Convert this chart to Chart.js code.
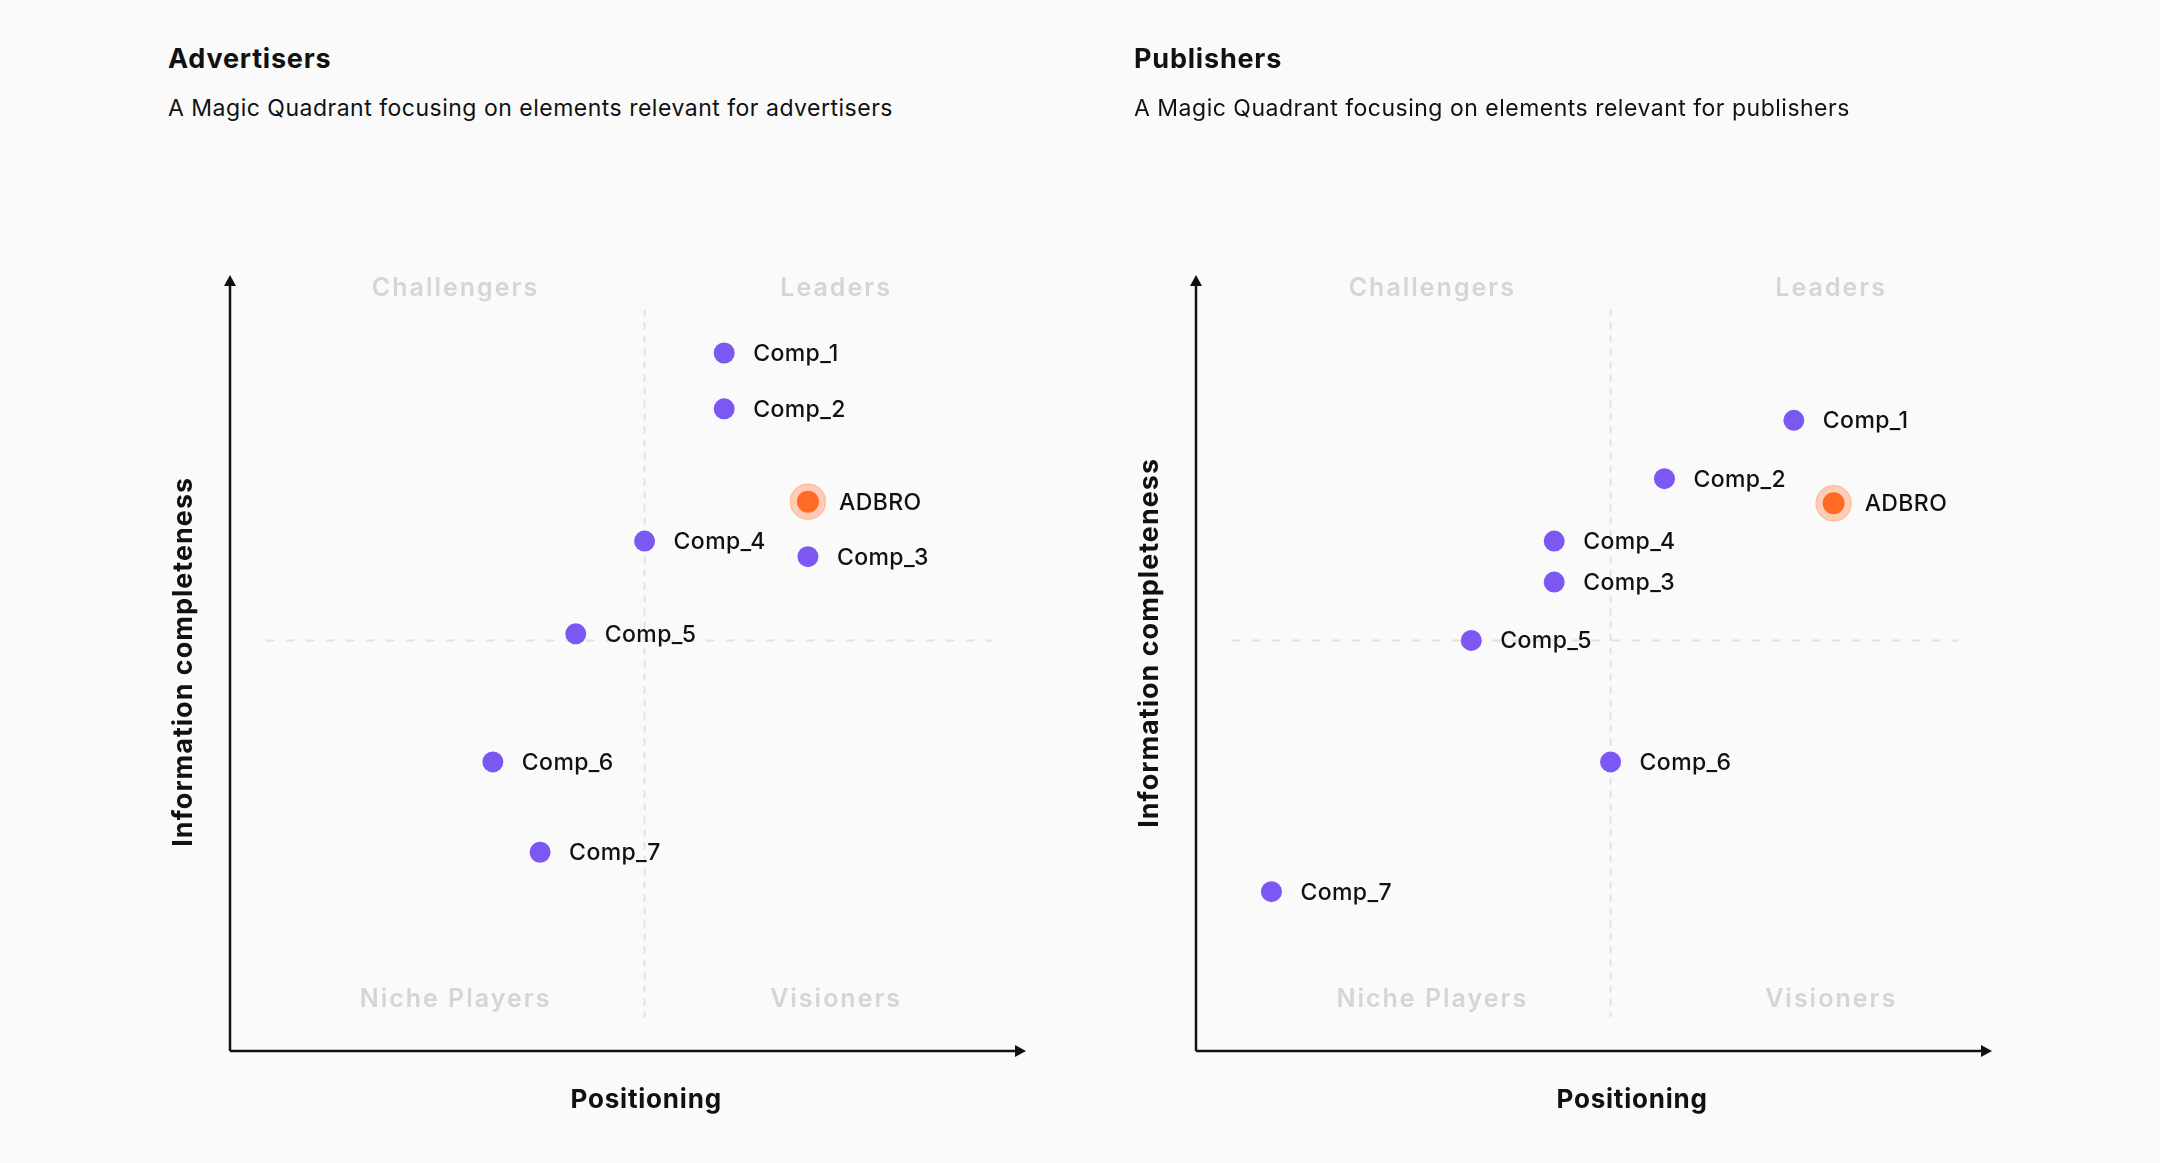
<!DOCTYPE html>
<html>
<head>
<meta charset="utf-8">
<script src="https://cdn.jsdelivr.net/npm/chart.js@4.4.1/dist/chart.umd.min.js"></script>
<style>
  body { margin: 0; width: 2160px; height: 1163px; background: #fafafa; overflow: hidden; position: relative; font-family: Inter, sans-serif; color: #111; }
  .panel { position: absolute; top: 0; width: 1100px; height: 1163px; }
  .panel canvas { position: absolute; left: 0; top: 0; }
  .panel h2 { position: absolute; left: 168px; top: 46px; margin: 0; font-size: 27px; line-height: 26px; font-weight: 700; letter-spacing: 0.8px; }
  .panel p { position: absolute; left: 168px; top: 97px; margin: 0; font-size: 23px; line-height: 22px; font-weight: 400; letter-spacing: 0.5px; white-space: nowrap; }
</style>
</head>
<body>
<div class="panel" style="left:0">
  <h2>Advertisers</h2>
  <p>A Magic Quadrant focusing on elements relevant for advertisers</p>
  <canvas id="adv-chart" width="1100" height="1163"></canvas>
</div>
<div class="panel" style="left:966px">
  <h2>Publishers</h2>
  <p>A Magic Quadrant focusing on elements relevant for publishers</p>
  <canvas id="pub-chart" width="1100" height="1163"></canvas>
</div>
<script>
// Competitors, same order in both quadrants
const competitors = ['Comp_1', 'Comp_2', 'Comp_3', 'Comp_4', 'Comp_5', 'Comp_6', 'Comp_7'];

// Advertisers quadrant (50 = quadrant split on both axes)
const advPositioning = [59.6, 59.6, 69.7, 50.0, 41.7, 31.7, 37.4];
const advCompleteness = [85.0, 78.2, 60.2, 62.1, 50.8, 35.2, 24.2];

// Publishers quadrant
const pubPositioning = [72.1, 56.5, 43.2, 43.2, 33.2, 50.0, 9.1];
const pubCompleteness = [76.8, 69.7, 57.1, 62.1, 50.0, 35.2, 19.4];

// ADBRO: [advertisers, publishers]
const adbroName = 'ADBRO';
const adbroPositioning = [69.7, 76.9];
const adbroCompleteness = [66.9, 66.7];

const quadrantNames = ['Challengers', 'Leaders', 'Niche Players', 'Visioners'];

const PURPLE = '#7a58f1';
const ORANGE = '#ff6a24';

const quadrantPlugin = {
    id: 'quadrant',
    beforeDatasetsDraw(chart, args, opts) {
        const { ctx, chartArea: a, scales: { x, y } } = chart;
        ctx.save();

        // dashed split lines
        ctx.strokeStyle = '#e2e2e2';
        ctx.lineWidth = 2;
        ctx.setLineDash([7, 6]);
        ctx.beginPath();
        ctx.moveTo(x.getPixelForValue(50), y.getPixelForValue(90.3));
        ctx.lineTo(x.getPixelForValue(50), y.getPixelForValue(4.1));
        ctx.stroke();
        ctx.setLineDash([9, 11]);
        ctx.beginPath();
        ctx.moveTo(x.getPixelForValue(4.3), y.getPixelForValue(50));
        ctx.lineTo(x.getPixelForValue(91.9), y.getPixelForValue(50));
        ctx.stroke();
        ctx.setLineDash([]);

        // axes with arrow heads
        ctx.strokeStyle = '#111';
        ctx.fillStyle = '#111';
        ctx.lineWidth = 2.5;
        ctx.beginPath();
        ctx.moveTo(a.left, a.bottom);
        ctx.lineTo(a.left, a.top + 8);
        ctx.moveTo(a.left, a.bottom);
        ctx.lineTo(a.right - 8, a.bottom);
        ctx.stroke();
        ctx.beginPath();
        ctx.moveTo(a.left, a.top);
        ctx.lineTo(a.left - 6, a.top + 11);
        ctx.lineTo(a.left + 6, a.top + 11);
        ctx.closePath();
        ctx.fill();
        ctx.beginPath();
        ctx.moveTo(a.right, a.bottom);
        ctx.lineTo(a.right - 11, a.bottom - 6);
        ctx.lineTo(a.right - 11, a.bottom + 6);
        ctx.closePath();
        ctx.fill();

        // quadrant names
        ctx.fillStyle = '#d5d5d5';
        ctx.font = '600 25px Inter';
        ctx.letterSpacing = '2px';
        ctx.textAlign = 'center';
        ctx.textBaseline = 'alphabetic';
        const [lx, rx] = opts.labelX;
        const topY = y.getPixelForValue(91.9);
        const botY = y.getPixelForValue(5.4);
        ctx.fillText(quadrantNames[0], x.getPixelForValue(lx), topY);
        ctx.fillText(quadrantNames[1], x.getPixelForValue(rx), topY);
        ctx.fillText(quadrantNames[2], x.getPixelForValue(lx), botY);
        ctx.fillText(quadrantNames[3], x.getPixelForValue(rx), botY);

        // axis titles
        ctx.fillStyle = '#111';
        ctx.font = '700 26px Inter';
        ctx.letterSpacing = '0.8px';
        ctx.fillText('Positioning', x.getPixelForValue(opts.xTitleAt), a.bottom + 57);
        ctx.save();
        ctx.translate(a.left - 38, y.getPixelForValue(opts.yTitleAt));
        ctx.rotate(-Math.PI / 2);
        ctx.font = '700 27px Inter';
        ctx.letterSpacing = '1px';
        ctx.fillText('Information completeness', 0, 0);
        ctx.restore();

        ctx.restore();
    },
    afterDatasetsDraw(chart) {
        const { ctx } = chart;
        ctx.save();
        ctx.fillStyle = '#111';
        ctx.font = '500 23px Inter';
        ctx.letterSpacing = '0.4px';
        ctx.textAlign = 'left';
        ctx.textBaseline = 'alphabetic';
        chart.data.datasets.forEach((ds, i) => {
            if (!ds.names) return;
            chart.getDatasetMeta(i).data.forEach((pt, j) => {
                ctx.fillText(ds.names[j], pt.x + ds.labelGap, pt.y + 8);
            });
        });
        ctx.restore();
    }
};

function toPoints(xs, ys) {
    return xs.map((v, i) => ({ x: v, y: ys[i] }));
}

function renderQuadrant(canvasId, xs, ys, idx, extra) {
    // Chart.js paints the first dataset on top, so the ADBRO core comes before its halo
    return new Chart(document.getElementById(canvasId), {
        type: 'scatter',
        data: {
            datasets: [
                {
                    data: toPoints(xs, ys),
                    names: competitors,
                    labelGap: 29,
                    backgroundColor: PURPLE,
                    borderWidth: 0,
                    pointRadius: 10.5
                },
                {
                    data: [{ x: adbroPositioning[idx], y: adbroCompleteness[idx] }],
                    names: [adbroName],
                    labelGap: 31,
                    backgroundColor: ORANGE,
                    borderColor: ORANGE,
                    borderWidth: 0,
                    pointRadius: 11
                },
                {
                    // soft halo behind ADBRO
                    data: [{ x: adbroPositioning[idx], y: adbroCompleteness[idx] }],
                    backgroundColor: '#ffcdb5',
                    borderColor: '#ffbe9f',
                    borderWidth: 1.5,
                    pointRadius: 17.5
                }
            ]
        },
        options: {
            responsive: false,
            animation: false,
            devicePixelRatio: 1,
            layout: { padding: { left: 230, right: 74, top: 275, bottom: 112 } },
            scales: {
                x: { display: false, min: 0, max: 96 },
                y: { display: false, min: 0, max: 94.5 }
            },
            plugins: {
                legend: { display: false },
                tooltip: { enabled: false },
                quadrant: extra
            }
        },
        plugins: [quadrantPlugin]
    });
}

renderQuadrant('adv-chart', advPositioning, advCompleteness, 0,
    { labelX: [27.2, 73.1], xTitleAt: 50.2, yTitleAt: 47.4 });
renderQuadrant('pub-chart', pubPositioning, pubCompleteness, 1,
    { labelX: [28.5, 76.6], xTitleAt: 52.6, yTitleAt: 49.7 });
</script>
</body>
</html>
